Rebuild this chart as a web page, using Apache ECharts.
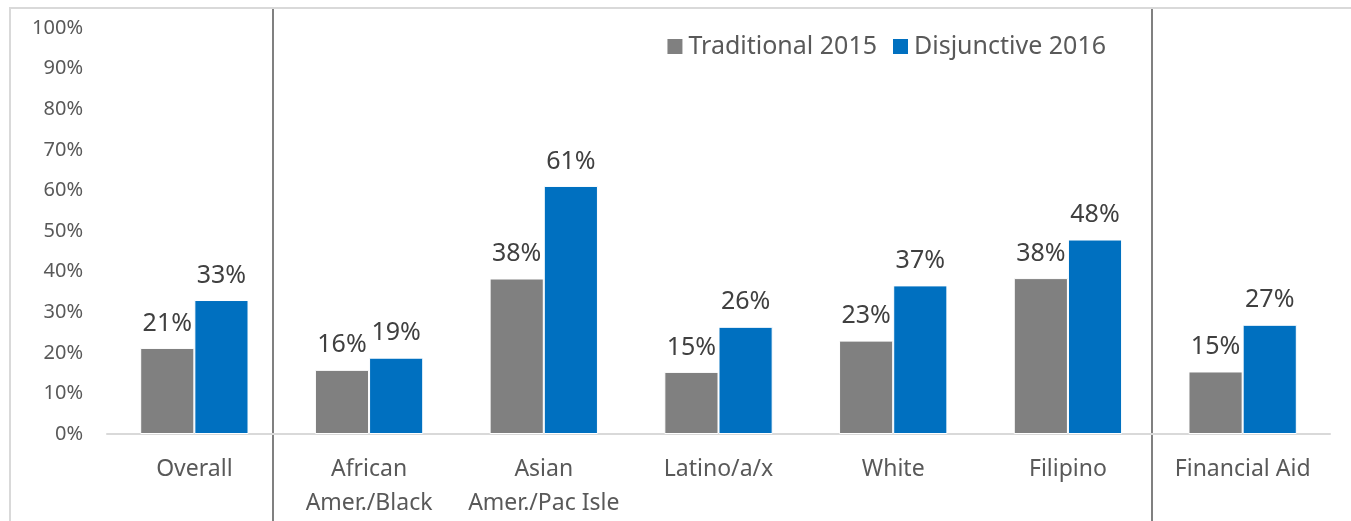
<!DOCTYPE html>
<html>
<head>
<meta charset="utf-8">
<script src="https://cdn.jsdelivr.net/npm/echarts@6/dist/echarts.min.js"></script>
<style>
  html, body { margin: 0; padding: 0; background: #fff; }
  #chart { width: 1351px; height: 521px; }
</style>
</head>
<body>
<div id="chart"></div>
<script>
// categories and values (percent)
var categories = ['Overall', 'African\nAmer./Black', 'Asian\nAmer./Pac Isle', 'Latino/a/x', 'White', 'Filipino', 'Financial Aid'];
var traditional2015 = [21.2, 15.8, 38.3, 15.3, 23.0, 38.4, 15.4];
var disjunctive2016 = [33.0, 18.8, 61.1, 26.4, 36.6, 47.9, 26.9];
var yTicks = [0, 10, 20, 30, 40, 50, 60, 70, 80, 90, 100];

var FONT = '"Noto Sans", sans-serif';

var myChart = echarts.init(document.getElementById('chart'));

var barLabel = {
  show: true,
  position: 'top',
  distance: 12,
  fontFamily: FONT,
  fontSize: 25,
  color: '#404040',
  formatter: function (p) { return Math.round(p.value) + '%'; }
};

myChart.setOption({
  animation: false,
  backgroundColor: '#fff',
  grid: { left: 107, right: 21, top: 28, bottom: 87 },
  legend: {
    right: 240,
    top: 29,
    itemWidth: 17,
    itemHeight: 17,
    itemGap: 14,
    icon: 'rect',
    textStyle: { fontFamily: FONT, fontSize: 25, color: '#595959' },
    data: ['Traditional 2015', 'Disjunctive 2016']
  },
  xAxis: {
    type: 'category',
    data: categories,
    axisLine: { lineStyle: { color: '#d9d9d9', width: 2 } },
    axisTick: { show: false },
    axisLabel: {
      interval: 0,
      margin: 18,
      fontFamily: FONT,
      fontSize: 23,
      lineHeight: 34,
      color: '#595959'
    }
  },
  yAxis: {
    type: 'value',
    min: yTicks[0],
    max: yTicks[yTicks.length - 1],
    interval: 10,
    axisLine: { show: false },
    axisTick: { show: false },
    splitLine: { show: false },
    axisLabel: {
      margin: 24,
      fontFamily: FONT,
      fontSize: 20,
      color: '#595959',
      formatter: '{value}%'
    }
  },
  series: [
    {
      name: 'Traditional 2015',
      type: 'bar',
      data: traditional2015,
      barGap: '0%',
      barCategoryGap: '38%',
      itemStyle: { color: '#808080', borderColor: '#ffffff', borderWidth: 1 },
      label: barLabel
    },
    {
      name: 'Disjunctive 2016',
      type: 'bar',
      data: disjunctive2016,
      itemStyle: { color: '#0070c0', borderColor: '#ffffff', borderWidth: 1 },
      label: barLabel
    }
  ],
  graphic: [
    // outer chart border
    { type: 'rect', shape: { x: 10, y: 8, width: 1400, height: 600 },
      style: { fill: 'none', stroke: '#d9d9d9', lineWidth: 2 }, silent: true },
    // group separators
    { type: 'line', shape: { x1: 273, y1: 9, x2: 273, y2: 521 },
      style: { stroke: '#808080', lineWidth: 2 }, silent: true },
    { type: 'line', shape: { x1: 1152, y1: 9, x2: 1152, y2: 521 },
      style: { stroke: '#808080', lineWidth: 2 }, silent: true }
  ]
});
</script>
</body>
</html>
